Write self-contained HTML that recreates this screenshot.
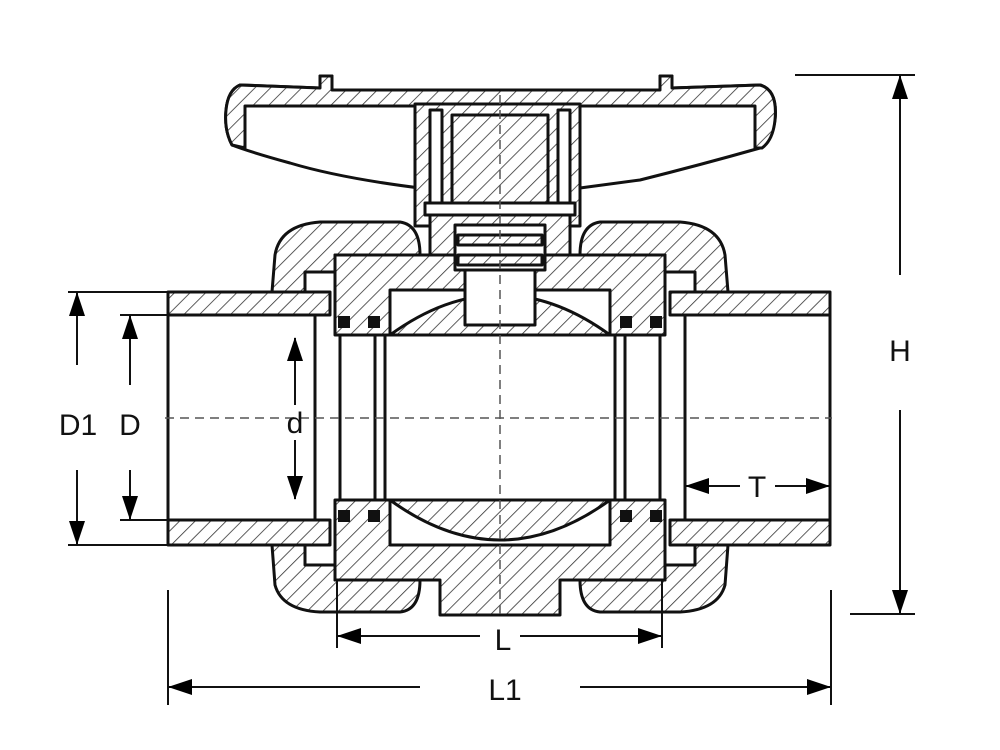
<!DOCTYPE html>
<html><head><meta charset="utf-8"><style>
html,body{margin:0;padding:0;background:#fff;}
svg{display:block;}
text{font-family:"Liberation Sans",sans-serif;font-size:30px;fill:#111;}
</style></head><body>
<svg width="1000" height="750" viewBox="0 0 1000 750" xmlns="http://www.w3.org/2000/svg">
<defs>
<pattern id="h" patternUnits="userSpaceOnUse" width="11" height="11" patternTransform="rotate(45)">
<rect width="11" height="11" fill="#fff"/>
<line x1="0" y1="0" x2="0" y2="11" stroke="#333" stroke-width="1.6"/>
</pattern>
<marker id="a" markerWidth="24" markerHeight="16" refX="23" refY="8" orient="auto" markerUnits="userSpaceOnUse" viewBox="0 0 24 16">
<path d="M0,0 L24,8 L0,16 z" fill="#000"/>
</marker>
</defs>
<g stroke="#111" stroke-width="3" stroke-linejoin="round" fill="url(#h)">
<!-- handle outline (white) -->
<path fill="#fff" d="M240,85 L320,88 L320,76 L332,76 L332,90 L660,90 L660,76 L672,76 L672,88 L760,85 Q778,90 775,120 Q772,140 760,148 Q700,165 640,180 L580,188 L580,215 L420,215 L420,188 Q340,178 290,163 Q250,152 232,145 Q224,130 226,110 Q228,90 240,85 Z"/>
<!-- hatched top band with end caps -->
<path d="M240,85 L320,88 L320,76 L332,76 L332,90 L660,90 L660,76 L672,76 L672,88 L760,85 Q778,90 775,120 Q773,140 762,148 L755,148 L755,106 L245,106 L245,148 L232,145 Q224,130 226,110 Q228,90 240,85 Z"/>
<!-- center column -->
<rect x="415" y="104" width="165" height="122"/>
<rect x="430" y="110" width="12" height="95" fill="#fff"/>
<rect x="558" y="110" width="12" height="95" fill="#fff"/>
<rect x="452" y="115" width="96" height="92"/>
<rect x="425" y="203" width="150" height="12" fill="#fff"/>
<!-- stem housing -->
<path d="M430,215 L430,255 L570,255 L570,215 Z"/>
<!-- left union nut top/bottom -->
<path d="M275,255 Q280,225 320,222 L400,222 Q420,225 420,255 L335,255 L335,272 L305,272 L305,292 L272,292 Z"/>
<path d="M272,545 L305,545 L305,565 L335,565 L335,580 L420,580 Q420,610 400,612 L320,612 Q282,610 275,585 Z"/>
<!-- right union nut -->
<path d="M725,255 Q720,225 680,222 L600,222 Q580,225 580,255 L665,255 L665,272 L695,272 L695,292 L728,292 Z"/>
<path d="M728,545 L695,545 L695,565 L665,565 L665,580 L580,580 Q580,610 600,612 L680,612 Q718,610 725,585 Z"/>
<!-- left pipe socket -->
<path d="M168,292 L330,292 L330,315 L168,315 Z"/>
<path d="M168,520 L330,520 L330,545 L168,545 Z"/>
<!-- right pipe socket -->
<path d="M670,292 L830,292 L830,315 L670,315 Z"/>
<path d="M670,520 L830,520 L830,545 L670,545 Z"/>
<!-- body -->
<path d="M335,255 L665,255 L665,335 L610,335 L610,290 L390,290 L390,335 L335,335 Z"/>
<path d="M335,500 L390,500 L390,545 L610,545 L610,500 L665,500 L665,580 L560,580 L560,615 L440,615 L440,580 L335,580 Z"/>
<!-- ball -->
<path d="M390,335 Q500,255 610,335 Z"/>
<path d="M390,500 Q500,580 610,500 Z"/>
<!-- stem -->
<rect x="465" y="255" width="70" height="70" fill="#fff"/>
<rect x="455" y="225" width="90" height="45" fill="#fff"/>
<rect x="458" y="235" width="84" height="10"/>
<rect x="458" y="255" width="84" height="10"/>
</g>
<g stroke="#111" stroke-width="3" fill="none">
<line x1="168" y1="292" x2="168" y2="545"/>
<line x1="830" y1="292" x2="830" y2="545"/>
<line x1="315" y1="315" x2="315" y2="520"/>
<line x1="685" y1="315" x2="685" y2="520"/>
<line x1="335" y1="335" x2="665" y2="335"/>
<line x1="335" y1="500" x2="665" y2="500"/>
<line x1="340" y1="335" x2="340" y2="500"/>
<line x1="375" y1="335" x2="375" y2="500"/>
<line x1="385" y1="335" x2="385" y2="500"/>
<line x1="615" y1="335" x2="615" y2="500"/>
<line x1="625" y1="335" x2="625" y2="500"/>
<line x1="660" y1="335" x2="660" y2="500"/>
</g>
<g fill="#111">
<rect x="338" y="316" width="12" height="12"/><rect x="368" y="316" width="12" height="12"/>
<rect x="620" y="316" width="12" height="12"/><rect x="650" y="316" width="12" height="12"/>
<rect x="338" y="510" width="12" height="12"/><rect x="368" y="510" width="12" height="12"/>
<rect x="620" y="510" width="12" height="12"/><rect x="650" y="510" width="12" height="12"/>
</g>
<!-- center lines -->
<g stroke="#555" stroke-width="1.5" stroke-dasharray="9,6">
<line x1="165" y1="418" x2="832" y2="418"/>
<line x1="500" y1="95" x2="500" y2="615"/>
</g>
<!-- dimensions -->
<g stroke="#111" stroke-width="2" fill="none">
<line x1="795" y1="75" x2="915" y2="75"/>
<line x1="850" y1="614" x2="915" y2="614"/>
<line x1="900" y1="275" x2="900" y2="76" marker-end="url(#a)"/>
<line x1="900" y1="410" x2="900" y2="613" marker-end="url(#a)"/>
<line x1="68" y1="292" x2="168" y2="292"/>
<line x1="68" y1="545" x2="168" y2="545"/>
<line x1="120" y1="315" x2="168" y2="315"/>
<line x1="120" y1="520" x2="168" y2="520"/>
<line x1="77" y1="365" x2="77" y2="293" marker-end="url(#a)"/>
<line x1="77" y1="470" x2="77" y2="544" marker-end="url(#a)"/>
<line x1="130" y1="385" x2="130" y2="316" marker-end="url(#a)"/>
<line x1="130" y1="470" x2="130" y2="519" marker-end="url(#a)"/>
<line x1="295" y1="405" x2="295" y2="338" marker-end="url(#a)"/>
<line x1="295" y1="440" x2="295" y2="499" marker-end="url(#a)"/>
<line x1="740" y1="486" x2="686" y2="486" marker-end="url(#a)"/>
<line x1="775" y1="486" x2="829" y2="486" marker-end="url(#a)"/>
<line x1="337" y1="580" x2="337" y2="648"/>
<line x1="662" y1="580" x2="662" y2="648"/>
<line x1="480" y1="636" x2="338" y2="636" marker-end="url(#a)"/>
<line x1="520" y1="636" x2="661" y2="636" marker-end="url(#a)"/>
<line x1="168" y1="590" x2="168" y2="705"/>
<line x1="831" y1="590" x2="831" y2="705"/>
<line x1="420" y1="687" x2="169" y2="687" marker-end="url(#a)"/>
<line x1="580" y1="687" x2="830" y2="687" marker-end="url(#a)"/>
</g>
<text x="900" y="361" text-anchor="middle">H</text>
<text x="78" y="435" text-anchor="middle">D1</text>
<text x="130" y="435" text-anchor="middle">D</text>
<text x="295" y="433" text-anchor="middle">d</text>
<text x="757" y="497" text-anchor="middle">T</text>
<text x="503" y="650" text-anchor="middle">L</text>
<text x="505" y="700" text-anchor="middle">L1</text>
</svg>
</body></html>
